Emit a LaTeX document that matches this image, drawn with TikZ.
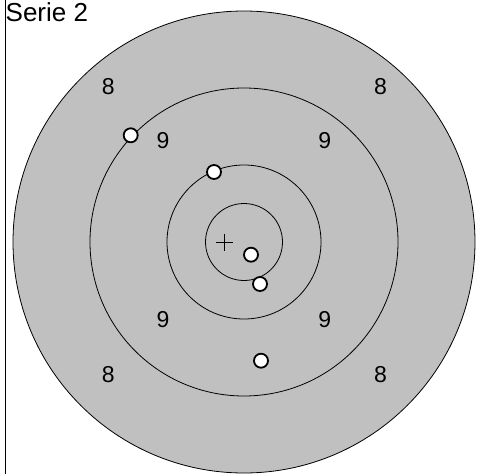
\documentclass[tikz,border=0pt]{standalone}
\usepackage{fontspec}
\setmainfont{Liberation Sans}
\definecolor{targetgray}{RGB}{192,192,192}
\tikzset{
  hole/.style={circle, draw, line width=1.8pt, fill=white, minimum size=14pt, inner sep=0pt},
  score/.style={font=\fontsize{23}{23}\selectfont, inner sep=0pt}
}
\begin{document}
\begin{tikzpicture}[x=1pt,y=-1pt]
            \def \cx {244}
            \def \cy {242}
            \useasboundingbox (0,0) rectangle (477,474);
            \draw[line width=0.8pt] (5,0) -- (5,474);
            \node[anchor=base west, inner sep=0pt, font=\fontsize{26}{26}\selectfont] (title) at (5.5,21) {Serie 2};
            % target rings
            \filldraw[fill=targetgray, line width=0.8pt] (\cx,\cy) circle (231pt);
            \foreach \r in {154,77,38.5}
              \draw[line width=0.8pt] (\cx,\cy) circle (\r pt);
            % ring scores
            \foreach \s/\x/\y/\N in {a/108.3/86.7/8,b/380.5/86.7/8,c/108.3/375/8,d/380.5/375/8,e/163/140.7/9,f/324.7/140.7/9,g/163/319.3/9,h/324.7/319.3/9}
              \node[score] (score\s) at (\x,\y) {\N};
            % aiming cross
            \coordinate (aim) at (224.3,242.3);
            \draw[line width=1pt] (aim) ++(-8.5,0) -- ++(17,0);
            \draw[line width=1pt] (aim) ++(0,-8.5) -- ++(0,17);
            % shots
            \foreach \s/\x/\y in {1/130.7/135.3,2/214/172,3/251/254.7,4/260/284,5/261/360.7}
              \node[hole] (shot\s) at (\x,\y) {};
        \end{tikzpicture}
\end{document}
